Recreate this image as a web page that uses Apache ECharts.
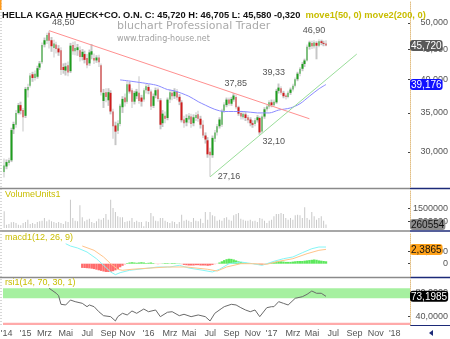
<!DOCTYPE html>
<html>
<head>
<meta charset="utf-8">
<script src="https://cdn.jsdelivr.net/npm/echarts@6/dist/echarts.min.js"></script>
<style>
  html, body { margin: 0; padding: 0; background: #fff; }
  #chart { width: 450px; height: 339px; }
</style>
</head>
<body>
<div id="chart"></div>
<script>
// Wochenkerzen ab IPO-Woche, Achse laeuft bis Anfang 2018 weiter
const firstWeek = '2014-11-10';
const weekCount = 172;
const monthNames = ['Jan', 'Feb', 'Mrz', 'Apr', 'Mai', 'Jun', 'Jul', 'Aug', 'Sep', 'Okt', 'Nov', 'Dez'];

const opens = [
  27.7, 28.3, 28.7, 29.0, 32.8, 33.4, 35.0, 36.1, 35.4, 34.6,
  38.3, 39.0, 40.8, 40.2, 40.4, 41.9, 42.8, 45.9, 46.6, 48.1,
  46.7, 45.3, 45.9, 45.2, 44.9, 42.0, 41.4, 42.3, 41.3, 45.8,
  44.7, 44.9, 44.9, 43.7, 44.2, 43.5, 42.6, 44.1, 43.5, 43.1,
  43.6, 42.3, 36.7, 38.0, 36.8, 37.9, 35.2, 33.3, 32.6, 33.5,
  35.8, 37.2, 36.6, 39.2, 38.3, 36.6, 37.4, 37.9, 37.2, 36.9,
  38.3, 38.8, 38.1, 36.0, 37.5, 38.4, 36.8, 33.6, 34.6, 34.3,
  36.9, 37.9, 37.4, 38.1, 37.3, 36.5, 34.1, 33.7, 34.1, 34.5,
  33.6, 34.3, 34.8, 34.2, 33.4, 32.0, 31.4, 30.0, 29.6, 31.6,
  32.4, 33.2, 33.4, 35.3, 36.1, 36.9, 36.3, 36.9, 37.3, 35.8,
  35.0, 34.4, 34.8, 34.4, 34.1, 33.6, 33.5, 34.0, 34.3, 32.5,
  34.5, 35.5, 35.9, 36.5, 36.1, 36.5, 38.2, 38.6, 37.9, 37.5,
  37.3, 37.9, 38.4, 39.0, 40.0, 40.9, 41.7, 42.5, 43.1, 45.5,
  46.2, 45.6, 46.2, 45.7, 46.5, 46.2, 46.1
];
const closes = [
  28.4, 28.8, 29.0, 32.7, 33.5, 35.0, 36.1, 35.3, 34.4, 38.5,
  38.8, 40.6, 40.2, 40.9, 41.8, 42.6, 45.8, 46.7, 47.7, 46.6,
  45.6, 46.1, 45.1, 44.5, 41.5, 41.5, 42.1, 41.1, 45.7, 44.7,
  45.3, 45.4, 43.7, 44.6, 43.2, 42.3, 44.5, 44.7, 43.1, 43.6,
  42.8, 38.0, 37.9, 37.3, 38.0, 35.2, 33.2, 32.5, 33.6, 36.0,
  37.0, 36.5, 39.2, 38.1, 36.6, 37.9, 38.1, 36.7, 36.6, 38.3,
  38.9, 38.2, 35.9, 37.4, 38.3, 37.0, 33.4, 34.9, 34.2, 36.9,
  38.0, 37.4, 38.1, 37.2, 36.6, 34.0, 33.6, 34.3, 34.6, 33.5,
  34.4, 34.7, 34.2, 33.4, 32.0, 31.5, 29.7, 29.6, 31.7, 32.4,
  33.2, 34.1, 35.3, 36.2, 36.9, 36.3, 37.0, 37.5, 35.8, 34.9,
  34.5, 34.9, 34.3, 34.0, 33.6, 33.4, 34.0, 34.4, 32.4, 34.5,
  35.5, 35.9, 36.5, 36.1, 36.6, 38.2, 38.7, 37.9, 37.4, 37.3,
  37.9, 38.4, 39.0, 40.0, 40.9, 41.7, 42.5, 43.1, 45.5, 46.3,
  45.6, 46.3, 45.7, 46.5, 46.2, 46.04, 45.72
];
const lows = [
  27.1, 28.0, 28.4, 28.8, 32.2, 33.0, 34.8, 34.8, 32.5, 34.3,
  37.2, 38.7, 39.6, 39.8, 40.1, 41.5, 42.5, 45.4, 46.0, 45.2,
  44.6, 43.6, 44.3, 43.9, 40.7, 40.9, 40.6, 40.5, 41.0, 44.1,
  44.0, 43.9, 42.9, 43.1, 42.6, 41.8, 42.2, 43.3, 42.5, 42.7,
  42.0, 37.5, 35.7, 36.5, 36.0, 34.8, 31.6, 30.8, 32.2, 33.2,
  35.0, 35.9, 36.3, 37.8, 35.7, 36.2, 37.0, 36.3, 35.9, 36.6,
  37.8, 37.7, 35.4, 35.7, 37.1, 36.6, 32.8, 33.1, 33.6, 34.0,
  36.4, 36.8, 37.0, 36.8, 36.1, 33.7, 33.0, 33.2, 33.6, 33.0,
  33.2, 33.9, 33.8, 32.9, 31.7, 31.0, 29.3, 27.16, 29.3, 31.2,
  32.0, 32.9, 33.1, 35.0, 35.8, 36.0, 36.0, 36.6, 35.5, 34.6,
  34.1, 34.1, 33.9, 33.6, 33.2, 33.0, 33.2, 33.7, 32.1, 32.3,
  34.2, 35.2, 35.6, 35.8, 35.9, 36.3, 37.8, 37.6, 37.1, 36.9,
  37.1, 37.6, 38.1, 38.7, 39.7, 40.5, 41.3, 42.0, 42.9, 45.0,
  45.1, 45.2, 43.3, 45.4, 45.8, 45.6, 45.58
];
const highs = [
  29.2, 29.1, 29.3, 33.0, 33.8, 35.4, 36.4, 36.6, 35.7, 38.8,
  39.3, 41.0, 41.2, 41.4, 42.2, 43.0, 46.3, 47.2, 48.1, 48.5,
  47.3, 46.8, 46.4, 45.8, 45.4, 42.6, 42.7, 42.9, 46.2, 46.4,
  46.5, 46.0, 45.6, 45.1, 44.8, 44.2, 45.0, 46.0, 44.3, 44.0,
  44.1, 42.6, 38.5, 38.6, 38.6, 38.3, 35.6, 33.8, 34.0, 36.3,
  37.4, 37.8, 39.7, 39.6, 38.6, 38.2, 38.5, 40.5, 37.6, 38.6,
  39.3, 39.2, 38.4, 37.8, 38.7, 38.7, 37.1, 35.4, 35.2, 37.2,
  38.4, 38.3, 38.6, 38.5, 37.7, 36.8, 34.6, 34.8, 35.0, 34.9,
  34.8, 35.1, 35.3, 34.6, 34.0, 32.4, 31.8, 30.5, 32.0, 32.7,
  33.5, 34.4, 35.6, 36.5, 37.2, 37.2, 37.3, 37.85, 37.6, 36.0,
  35.3, 35.2, 35.1, 34.7, 34.4, 34.0, 34.3, 34.7, 34.5, 34.8,
  35.8, 36.2, 36.8, 36.9, 36.9, 38.5, 39.33, 38.9, 38.2, 37.8,
  38.2, 38.7, 39.3, 40.3, 41.2, 42.0, 42.8, 43.4, 45.9, 46.6,
  46.6, 46.7, 46.5, 46.9, 46.8, 46.6, 46.705
];

const volumes = [
  1270000, 254000, 305000, 432000, 457000, 381000, 254000, 203000, 381000, 457000,
  635000, 305000, 381000, 305000, 457000, 508000, 559000, 762000, 508000, 635000,
  508000, 457000, 381000, 457000, 381000, 305000, 508000, 457000, 2159000, 762000,
  559000, 508000, 1727000, 813000, 508000, 635000, 711000, 457000, 381000, 508000,
  711000, 635000, 762000, 1067000, 635000, 2159000, 1524000, 1219000, 889000, 813000,
  813000, 457000, 508000, 559000, 762000, 457000, 559000, 457000, 457000, 127000,
  508000, 457000, 1143000, 889000, 559000, 508000, 762000, 762000, 559000, 457000,
  381000, 508000, 457000, 305000, 457000, 1016000, 559000, 635000, 559000, 457000,
  762000, 559000, 508000, 711000, 381000, 1219000, 635000, 1219000, 965000, 889000,
  559000, 635000, 559000, 762000, 813000, 635000, 559000, 965000, 1067000, 1143000,
  711000, 635000, 559000, 559000, 635000, 508000, 559000, 457000, 762000, 711000,
  559000, 381000, 559000, 635000, 889000, 1067000, 1067000, 1143000, 1067000, 762000,
  635000, 762000, 635000, 965000, 1016000, 965000, 762000, 1575000, 762000, 635000,
  1219000, 889000, 635000, 762000, 889000, 559000, 260554
];

// gleitender 50er Durchschnitt (move1)
const ma50Points = [
  [49, 39.9], [64, 39.1], [69, 38.4], [72, 38.2], [78, 37.4], [82, 36.6], [85, 36.1],
  [89, 35.5], [93, 35.2], [101, 35.2], [107, 35.0], [112, 35.0], [116, 35.4],
  [121, 35.7], [125, 36.3], [129, 37.4], [133, 38.5], [136, 39.176]
];
// Trendlinien
const downTrend = [[19, 48.5], [129, 34.2]];
const upTrend = [[87, 27.16], [149, 44.2]];

// Extremwerte mit Beschriftung
const extremes = [[19, 48.5], [87, 27.16], [97, 37.85], [108, 32.10], [116, 39.33], [133, 46.90]];
const extremeOffsets = [[14, -8], [19, 0], [2, -10], [14, 7], [-5, -11], [-5, -9]];

const macdPoints = [
  [26, 3.33], [28, 2.95], [31, 2.62], [35, 1.95], [39, 0.83], [42, -0.27], [45, -1.38],
  [47, -1.83], [49, -1.5], [53, -1.1], [59, -0.83], [65, -0.55], [70, -0.55], [74, -0.27],
  [78, -0.72], [84, -1.1], [88, -1.38], [91, -0.93], [95, 0], [100, 0.28], [105, 0],
  [109, -0.27], [114, 0.4], [118, 0.83], [122, 1.12], [126, 1.83], [130, 2.5], [133, 2.78], [136, 2.78]
];
const signalPoints = [
  [33, 2.95], [38, 2.23], [42, 1.12], [45, 0], [48, -0.93], [50, -1.1], [54, -0.93],
  [62, -0.72], [69, -0.55], [77, -0.55], [86, -0.93], [90, -1.22], [94, -0.55], [100, 0],
  [105, 0], [111, -0.1], [116, 0.4], [122, 0.83], [128, 1.67], [133, 2.23], [136, 2.3865]
];
const macdHist = [
  null, null, null, null, null, null, null, null, null, null,
  null, null, null, null, null, null, null, null, null, null,
  null, null, null, null, null, null, null, null, null, null,
  null, null, null,
  -0.7, -0.72, -0.75, -0.78, -0.83, -0.9, -1.0, -1.1, -1.2, -1.3,
  -1.38, -1.38, -1.35, -1.25, -1.1, -0.9, -0.6, -0.35, -0.15,
  0.1, 0.2, 0.25, 0.2, 0.15, 0.2, 0.25, 0.2, 0.1, 0.15,
  0.2, 0.1, -0.05, -0.1, -0.05, 0.05, 0.1, 0.1, 0.05, 0.1, 0.1, 0.05, 0.05,
  -0.1, -0.2, -0.25, -0.3, -0.3, -0.3, -0.25, -0.25, -0.3, -0.3,
  -0.3, -0.35, -0.3, -0.2, -0.1, -0.05,
  0.2, 0.4, 0.6, 0.75, 0.83, 0.8, 0.7, 0.55, 0.4, 0.3, 0.2, 0.15, 0.1, 0.05,
  -0.05, -0.1, -0.15, -0.2, -0.2, -0.1, -0.05,
  0.1, 0.2, 0.3, 0.35, 0.4, 0.4, 0.35, 0.3, 0.3, 0.3, 0.35, 0.4, 0.45,
  0.45, 0.45, 0.5, 0.55, 0.6, 0.65, 0.7, 0.65, 0.55, 0.5, 0.45, 0.4
];

const rsiPoints = [
  [19, 86.3], [22, 78.2], [23, 74.2], [24, 60.2], [26, 59.1], [28, 67.2], [30, 64.5],
  [33, 61.8], [35, 56.3], [36, 59.1], [38, 56.3], [40, 48.1], [42, 41.6], [45, 40],
  [47, 33], [48, 40], [50, 45.5], [52, 42.8], [54, 49.3], [56, 45.5], [59, 52.5],
  [61, 48.1], [64, 50.9], [66, 40], [69, 47.2], [71, 48.1], [74, 41.6], [76, 43.9],
  [79, 40], [82, 42.8], [85, 40], [87, 33], [89, 45.5], [92, 53.7], [93, 56.3],
  [96, 60.2], [98, 59.1], [100, 54.7], [102, 50.9], [104, 48.1], [106, 50.9], [108, 40],
  [111, 54.7], [113, 56.3], [114, 56.3], [116, 64.5], [118, 61.8], [120, 59.1],
  [123, 70], [126, 72.6], [128, 76.5], [130, 81.9], [132, 78.2], [134, 78.2], [136, 73.1985]
];

const priceTicks = [30, 35, 40, 45, 50];
const volumeTicks = [500000, 1500000];
const macdTicks = [0, 2];
const rsiTicks = [40, 80];
const rsiOverbought = [70, 86.3];
const rsiOversold = 30;

const lastClose = 45.72;
const lastMa50 = 39.176;
const lastVolume = 260554;
const lastSignal = 2.3865;
const lastRsi = 73.1985;

// --- Aufbau ---
const weeks = [];
for (let k = 0; k < weekCount; k++) {
  const d = new Date(Date.parse(firstWeek + 'T00:00:00Z') + k * 7 * 86400000);
  weeks.push(d.toISOString().slice(0, 10));
}

const FONT = 'Liberation Sans, Arial, sans-serif';
const OLIVE = '#c8bd00';
const deNum = (v, digits) => v.toFixed(digits).replace('.', ',');

const wickData = lows.map((l, i) => [l, highs[i], l, highs[i]]);
const bodyData = opens.map((o, i) => {
  const c = closes[i];
  return [o, c, Math.min(o, c), Math.max(o, c)];
});

const RSI_MIN = 26.4;
const GRID_LEFT = 3;
const GRID_RIGHT = 40;
const grids = [
  { left: GRID_LEFT, right: GRID_RIGHT, top: 1, height: 186 },
  { left: GRID_LEFT, right: GRID_RIGHT, top: 190, height: 38 },
  { left: GRID_LEFT, right: GRID_RIGHT, top: 233, height: 44 },
  { left: GRID_LEFT, right: GRID_RIGHT, top: 279, height: 46 },
].map(g => ({ ...g, outerBoundsMode: 'none', containLabel: false }));

const isLabelWeek = (index, value) => {
  if (index === 0) return true;
  const d = new Date(value + 'T00:00:00Z');
  return d.getUTCDate() <= 7 && d.getUTCMonth() % 2 === 0;
};

const xAxes = [0, 1, 2, 3].map(gi => ({
  type: 'category',
  gridIndex: gi,
  data: weeks,
  boundaryGap: true,
  axisLine: { show: false },
  axisTick: { show: false },
  splitLine: { show: false },
  axisLabel: gi === 3 ? {
    show: true,
    interval: isLabelWeek,
    margin: 4,
    padding: [0, 0, 0, 5],
    fontSize: 9,
    fontFamily: FONT,
    color: '#555',
    formatter: (value, index) => {
      const d = new Date(value + 'T00:00:00Z');
      if (index === 0 || d.getUTCMonth() === 0) return "'" + String(d.getUTCFullYear()).slice(2);
      return monthNames[d.getUTCMonth()];
    },
  } : { show: false },
}));

const badge = (value, bg, fg, fmt) => ({
  show: true,
  status: 'show',
  value: value,
  snap: false,
  triggerTooltip: false,
  lineStyle: { color: 'rgba(0,0,0,0)' },
  label: {
    show: true,
    backgroundColor: bg,
    color: fg,
    fontSize: 10,
    fontFamily: FONT,
    padding: [1, 1, 0, 1],
    margin: 0,
    formatter: p => fmt(Number(p.value)),
  },
});

const rightAxis = (gridIndex, extra, ticks, fmt) => ({
  gridIndex,
  position: 'right',
  axisLine: { show: true, lineStyle: { color: '#e2bf84', type: 'dotted', width: 1 } },
  axisTick: { show: true, inside: true, length: 2, customValues: ticks, lineStyle: { color: '#444' } },
  axisLabel: {
    customValues: ticks,
    align: 'right',
    margin: 38,
    fontSize: 9,
    fontFamily: FONT,
    color: '#555',
    formatter: fmt,
  },
  splitLine: { show: false },
  ...extra,
});

const priceFmt = v => deNum(v, 3);
const yAxes = [
  rightAxis(0, { type: 'log', logBase: 10, min: 26.09, max: 54.56,
    axisPointer: badge(lastClose, '#585858', '#fff', priceFmt) }, priceTicks, priceFmt),
  { gridIndex: 0, type: 'log', logBase: 10, min: 26.09, max: 54.56, position: 'right',
    axisLine: { show: false }, axisTick: { show: false }, axisLabel: { show: false }, splitLine: { show: false },
    axisPointer: badge(lastMa50, '#1010ff', '#fff', priceFmt) },
  rightAxis(1, { type: 'value', min: 0, max: 2900000,
    axisPointer: badge(lastVolume, '#8c8c8c', '#111', v => String(Math.round(v))) },
    volumeTicks, v => String(v)),
  rightAxis(2, { type: 'value', min: -2.22, max: 5.12,
    axisPointer: badge(lastSignal, '#ffa21a', '#111', v => deNum(v, 4)) },
    macdTicks, v => (v === 0 ? '0' : deNum(v, 4))),
  rightAxis(3, { type: 'value', min: RSI_MIN, max: 101.5,
    axisPointer: badge(lastRsi, '#000', '#fff', v => deNum(v, 4)) },
    rsiTicks, v => deNum(v, 4)),
];

const series = [
  {
    name: 'range', type: 'candlestick', xAxisIndex: 0, yAxisIndex: 0,
    data: wickData, barWidth: 2, silent: true,
    itemStyle: { color: '#c6c6c6', color0: '#c6c6c6', borderColor: '#c6c6c6', borderColor0: '#c6c6c6', borderWidth: 0 },
  },
  {
    name: 'body', type: 'candlestick', xAxisIndex: 0, yAxisIndex: 0,
    data: bodyData, barWidth: 2,
    itemStyle: { color: '#1e9e1e', color0: '#d01c1c', borderColor: '#1e9e1e', borderColor0: '#d01c1c', borderWidth: 0 },
    markPoint: {
      symbol: 'circle', symbolSize: 0, silent: true,
      data: extremes.map((e, i) => ({
        coord: e,
        value: deNum(e[1], 2),
        label: {
          show: true, offset: extremeOffsets[i], fontSize: 9, fontFamily: FONT, color: '#555',
          formatter: deNum(e[1], 2),
        },
      })),
    },
  },
  {
    name: 'move1', type: 'line', xAxisIndex: 0, yAxisIndex: 0, data: ma50Points,
    symbol: 'none', smooth: 0.3, lineStyle: { color: '#8a8aff', width: 1 }, z: 3,
  },
  {
    name: 'down', type: 'line', xAxisIndex: 0, yAxisIndex: 0, data: downTrend,
    symbol: 'none', lineStyle: { color: '#ff9090', width: 1 }, z: 3,
  },
  {
    name: 'up', type: 'line', xAxisIndex: 0, yAxisIndex: 0, data: upTrend,
    symbol: 'none', lineStyle: { color: '#9ade9a', width: 1 }, z: 3,
  },
  {
    name: 'volume', type: 'bar', xAxisIndex: 1, yAxisIndex: 2, data: volumes,
    barWidth: 1, itemStyle: { color: '#c8c8c8' },
  },
  {
    name: 'hist', type: 'bar', xAxisIndex: 2, yAxisIndex: 3, data: macdHist,
    barCategoryGap: '0%',
    itemStyle: {
      color: p => (p.value < 0 ? (p.value <= -0.2 ? '#ff6c6c' : '#ffb4b4') : '#5ce85c'),
    },
  },
  {
    name: 'macd', type: 'line', xAxisIndex: 2, yAxisIndex: 3, data: macdPoints,
    symbol: 'none', lineStyle: { color: '#86f6f6', width: 1 }, z: 3,
  },
  {
    name: 'signal', type: 'line', xAxisIndex: 2, yAxisIndex: 3, data: signalPoints,
    symbol: 'none', lineStyle: { color: '#ffc48a', width: 1 }, z: 3,
  },
  {
    name: 'rsi', type: 'line', xAxisIndex: 3, yAxisIndex: 4, data: rsiPoints,
    symbol: 'none', lineStyle: { color: '#6a6a6a', width: 1 }, z: 3,
    markArea: {
      silent: true,
      data: [
        [{ yAxis: rsiOverbought[0], itemStyle: { color: '#a6f0a0' } }, { yAxis: rsiOverbought[1] }],
        [{ yAxis: RSI_MIN, itemStyle: { color: '#ffaaaa' } }, { yAxis: rsiOversold }],
      ],
    },
  },
];

// Trennlinien zwischen den Feldern
const sepYs = [188.5, 231, 277.5];
const graphic = [];
sepYs.forEach(y => {
  graphic.push({ type: 'line', shape: { x1: 0, y1: y, x2: 410, y2: y }, style: { stroke: '#8a8a8a', lineWidth: 1.6 } });
  graphic.push({ type: 'line', shape: { x1: 410, y1: y, x2: 450, y2: y }, style: { stroke: '#1c2a78', lineWidth: 1.6 } });
});
graphic.push({ type: 'line', shape: { x1: 410, y1: 325.5, x2: 450, y2: 325.5 }, style: { stroke: '#1c2a78', lineWidth: 1.2 } });
graphic.push({ type: 'line', shape: { x1: 1, y1: 0, x2: 1, y2: 325 }, style: { stroke: '#b0b0b0', lineWidth: 1, lineDash: [1, 2] } });
graphic.push({ type: 'rect', shape: { x: 0, y: 0, width: 1.5, height: 10 }, style: { fill: '#ff9a1a' } });
graphic.push({ type: 'polygon', shape: { points: [[429, 333], [433, 330], [433, 336]] }, style: { fill: '#1c2a78' } });
graphic.push({
  type: 'text', left: 117, top: 21,
  style: { text: 'bluchart Professional Trader', font: '11px "DejaVu Sans"', fill: '#ababab' },
});
graphic.push({
  type: 'text', left: 117, top: 35,
  style: { text: 'www.trading-house.net', font: '8px "DejaVu Sans"', fill: '#a0a0a0' },
});

const option = {
  animation: false,
  backgroundColor: '#fff',
  axisPointer: { triggerOn: 'none' },
  title: [
    {
      left: 2, top: 6, padding: 0,
      text: '{a|HELLA KGAA HUECK+CO. O.N. C: 45,720 H: 46,705 L: 45,580 -0,320} {b|move1(50, 0) move2(200, 0)}',
      textStyle: {
        rich: {
          a: { fontSize: 9.3, fontFamily: FONT, color: '#111' },
          b: { fontSize: 9.3, fontFamily: FONT, color: OLIVE },
        },
      },
    },
    { left: 5, top: 190, padding: 0, text: 'VolumeUnits1', textStyle: { fontSize: 9, fontFamily: FONT, color: OLIVE, fontWeight: 'normal' } },
    { left: 5, top: 233, padding: 0, text: 'macd1(12, 26, 9)', textStyle: { fontSize: 9, fontFamily: FONT, color: OLIVE, fontWeight: 'normal' } },
    { left: 5, top: 278, padding: 0, text: 'rsi1(14, 70, 30, 1)', textStyle: { fontSize: 9, fontFamily: FONT, color: OLIVE, fontWeight: 'normal' } },
  ],
  grid: grids,
  xAxis: xAxes,
  yAxis: yAxes,
  series: series,
  graphic: graphic,
};

const chart = echarts.init(document.getElementById('chart'));
chart.setOption(option);
</script>
</body>
</html>
